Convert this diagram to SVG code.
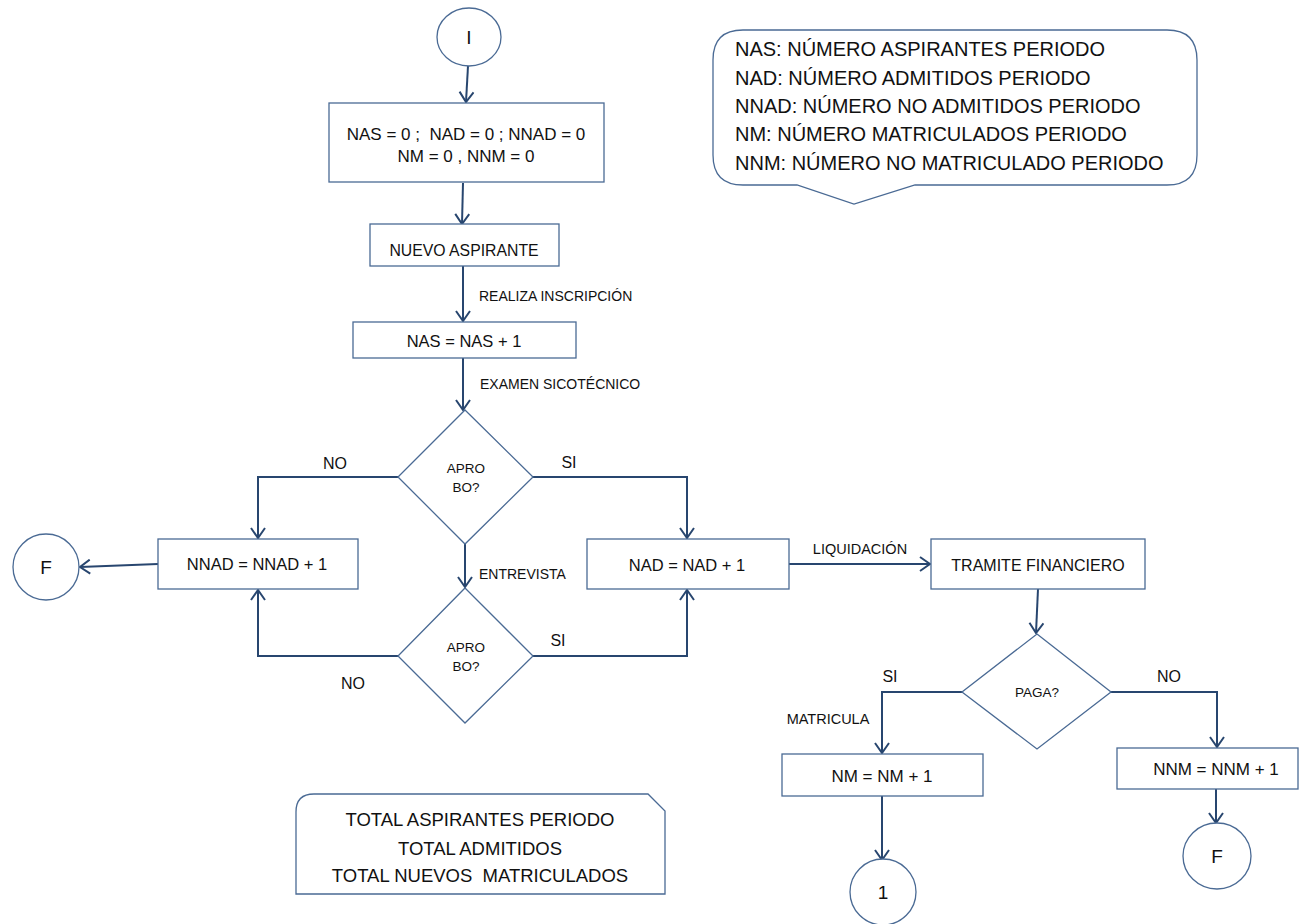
<svg xmlns="http://www.w3.org/2000/svg" width="1304" height="924" viewBox="0 0 1304 924">
  <style>
    .shape { fill: #ffffff; stroke: #4a6a94; stroke-width: 1.3; }
    .conn { fill: none; stroke: #28466f; stroke-width: 2; marker-end: url(#arrow); }
    text { font-family: "Liberation Sans", Arial, sans-serif; fill: #111111; white-space: pre; }
    .c { text-anchor: middle; }
    .box { font-size: 16.5px; }
    .lbl { font-size: 14px; }
    .yn { font-size: 16px; }
    .dec { font-size: 13.5px; }
    .term { font-size: 19px; }
    .note { font-size: 20px; }
    .tot { font-size: 18.5px; }
  </style>
  <defs>
    <marker id="arrow" viewBox="0 0 12 16" refX="11" refY="8" markerWidth="12" markerHeight="16" markerUnits="userSpaceOnUse" orient="auto">
      <path d="M1,1 L11,8 L1,15" fill="none" stroke="#28466f" stroke-width="2"/>
    </marker>
  </defs>

  <rect width="1304" height="924" fill="#ffffff"/>

  <!-- connectors and their labels -->
  <g id="connectors">
    <path class="conn" d="M468,66 L466,102"/>
    <path class="conn" d="M463,183 L462,224"/>
    <path class="conn" d="M463,266 L463,321"/>
    <path class="conn" d="M463,358 L463,410"/>
    <path class="conn" d="M398,477 H258 V538"/>
    <path class="conn" d="M533,477 H687 V538"/>
    <path class="conn" d="M465,544 V587"/>
    <path class="conn" d="M398,656 H258 V590"/>
    <path class="conn" d="M533,656 H687 V590"/>
    <path class="conn" d="M158,564 L80,567"/>
    <path class="conn" d="M789,564 H930"/>
    <path class="conn" d="M1038,589 L1036,633"/>
    <path class="conn" d="M962,692 H882 V753"/>
    <path class="conn" d="M1111,692 H1217 V747"/>
    <path class="conn" d="M882,796 V860"/>
    <path class="conn" d="M1216,789 V823"/>
    <text class="lbl" x="479" y="301">REALIZA INSCRIPCIÓN</text>
    <text class="lbl" x="480" y="389">EXAMEN SICOTÉCNICO</text>
    <text class="yn c" x="335" y="469">NO</text>
    <text class="yn c" x="569" y="468">SI</text>
    <text class="lbl" x="479" y="579">ENTREVISTA</text>
    <text class="yn c" x="353" y="689">NO</text>
    <text class="yn c" x="558" y="646">SI</text>
    <text class="lbl c" x="860" y="554" style="font-size:14.5px">LIQUIDACIÓN</text>
    <text class="yn c" x="890" y="682">SI</text>
    <text class="yn c" x="1169" y="682">NO</text>
    <text class="lbl c" x="828" y="724" style="font-size:14.5px">MATRICULA</text>
  </g>

  <!-- start -->
  <g id="start">
    <ellipse class="shape" cx="469" cy="37" rx="32" ry="29"/>
    <text class="term c" x="469" y="43.5">I</text>
  </g>

  <g id="init">
    <rect class="shape" x="329" y="103" width="275" height="79"/>
    <text class="c" x="466" y="140" style="font-size:17px">NAS = 0 ;  NAD = 0 ; NNAD = 0</text>
    <text class="c" x="466" y="162" style="font-size:17px">NM = 0 , NNM = 0</text>
  </g>

  <g id="nuevo-aspirante">
    <rect class="shape" x="370" y="224" width="189" height="42"/>
    <text class="c" x="464" y="256" style="font-size:15.8px">NUEVO ASPIRANTE</text>
  </g>

  <g id="nas-inc">
    <rect class="shape" x="353" y="322" width="223" height="36"/>
    <text class="box c" x="464" y="347">NAS = NAS + 1</text>
  </g>

  <g id="decision-examen">
    <polygon class="shape" points="465,410 533,477 465,544 398,477"/>
    <text class="dec c" x="466" y="473">APRO</text>
    <text class="dec c" x="466" y="492">BO?</text>
  </g>

  <g id="nnad-inc">
    <rect class="shape" x="158" y="539" width="200" height="50"/>
    <text class="box c" x="257" y="570">NNAD = NNAD + 1</text>
  </g>

  <g id="fin-left">
    <ellipse class="shape" cx="46" cy="567" rx="33" ry="33"/>
    <text class="term c" x="46" y="574">F</text>
  </g>

  <g id="decision-entrevista">
    <polygon class="shape" points="465,588 533,656 465,723 398,656"/>
    <text class="dec c" x="466" y="652">APRO</text>
    <text class="dec c" x="466" y="671">BO?</text>
  </g>

  <g id="nad-inc">
    <rect class="shape" x="587" y="539" width="202" height="50"/>
    <text class="box c" x="687" y="571">NAD = NAD + 1</text>
  </g>

  <g id="tramite">
    <rect class="shape" x="931" y="539" width="214" height="50"/>
    <text class="c" x="1038" y="570.5" style="font-size:16px">TRAMITE FINANCIERO</text>
  </g>

  <g id="decision-paga">
    <polygon class="shape" points="1037,634 1111,692 1037,749 962,692"/>
    <text class="dec c" x="1037" y="697">PAGA?</text>
  </g>

  <g id="nm-inc">
    <rect class="shape" x="782" y="754" width="201" height="42"/>
    <text class="c" x="882" y="782" style="font-size:17px">NM = NM + 1</text>
  </g>

  <g id="nnm-inc">
    <rect class="shape" x="1117" y="748" width="181" height="41"/>
    <text class="c" x="1216" y="775" style="font-size:17px">NNM = NNM + 1</text>
  </g>

  <g id="connector-1">
    <ellipse class="shape" cx="883" cy="892" rx="33" ry="33"/>
    <text class="term c" x="883" y="898.5">1</text>
  </g>

  <g id="fin-right">
    <ellipse class="shape" cx="1217" cy="856" rx="34" ry="33"/>
    <text class="term c" x="1217" y="863">F</text>
  </g>

  <!-- legend callout -->
  <g id="legend">
    <path class="shape" d="M743,30 H1167 Q1197,30 1197,60 V155 Q1197,185 1167,185 H915 L854,204 L797,185 H743 Q713,185 713,155 V60 Q713,30 743,30 Z"/>
    <text class="note" x="735" y="56">NAS: NÚMERO ASPIRANTES PERIODO</text>
    <text class="note" x="735" y="85">NAD: NÚMERO ADMITIDOS PERIODO</text>
    <text class="note" x="735" y="113">NNAD: NÚMERO NO ADMITIDOS PERIODO</text>
    <text class="note" x="735" y="141">NM: NÚMERO MATRICULADOS PERIODO</text>
    <text class="note" x="735" y="170">NNM: NÚMERO NO MATRICULADO PERIODO</text>
  </g>

  <!-- totals output -->
  <g id="totales">
    <path class="shape" d="M296,812 Q296,794 314,794 H648 L665,811 V894 H296 Z"/>
    <text class="tot c" x="480" y="825.5">TOTAL ASPIRANTES PERIODO</text>
    <text class="tot c" x="480" y="854.5">TOTAL ADMITIDOS</text>
    <text class="tot c" x="480" y="881.5">TOTAL NUEVOS  MATRICULADOS</text>
  </g>
</svg>
